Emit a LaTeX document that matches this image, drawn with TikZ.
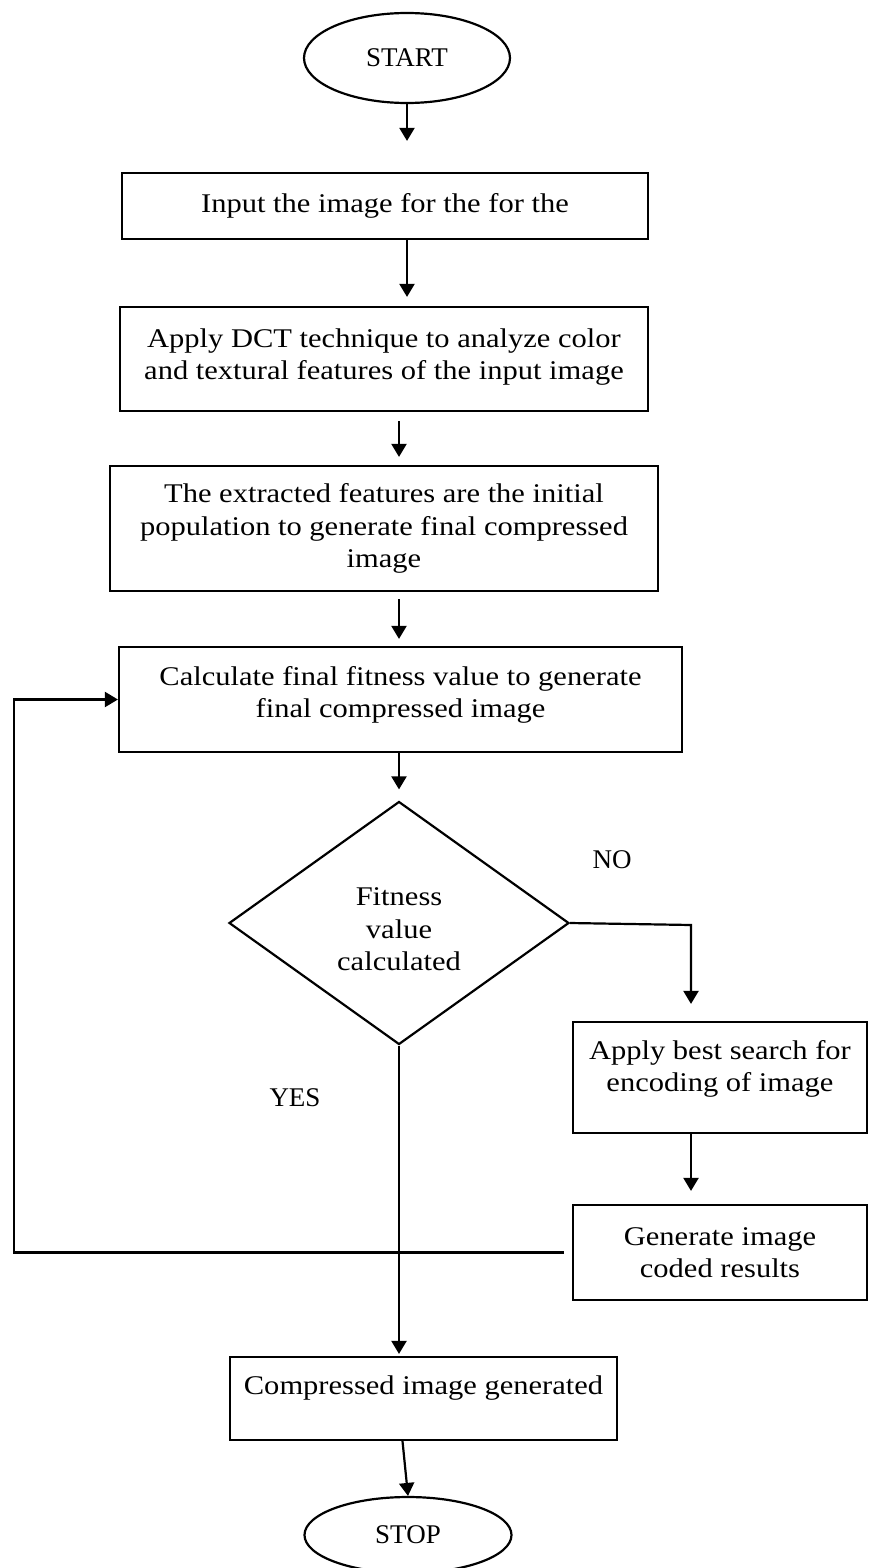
\documentclass[tikz,border=0pt]{standalone}
\usepackage{fontspec}
\setmainfont{Liberation Serif}
\newfontfamily\boxfont[FakeStretch=1.13]{Liberation Serif}
\usetikzlibrary{arrows.meta,shapes.geometric}
\tikzset{
  box/.style   = {draw, line width=2.2pt, rectangle, align=center, inner sep=0pt,
                  font=\boxfont\fontsize{27}{32.5}\selectfont},
  term/.style  = {draw, line width=2.2pt, ellipse, inner sep=0pt,
                  font=\fontsize{27}{32}\selectfont},
  decide/.style= {draw, line width=2.2pt, diamond, inner sep=0pt, align=center,
                  font=\boxfont\fontsize{27}{32.5}\selectfont},
  flow/.style  = {line width=2.2pt, -{Triangle[length=13pt,width=15pt]}},
  tag/.style   = {font=\fontsize{27}{32}\selectfont},
}
\begin{document}
\begin{tikzpicture}[x=1pt,y=-1pt]
  \useasboundingbox (0,0) rectangle (870,1568);
  % terminals
  \node[term, minimum width=206pt, minimum height=90pt] (start) at (407,58) {START};
  \node[term, minimum width=207pt, minimum height=76pt] (stop) at (408,1535) {STOP};
  % process boxes
  \node[box, minimum width=526pt, minimum height=66pt] (input) at (385,206)
      {Input the image for the for the};
  \node[box, minimum width=528pt, minimum height=104pt, text depth=10pt] (dct) at (384,359)
      {Apply DCT technique to analyze color\\and textural features of the input image};
  \node[box, minimum width=548pt, minimum height=125pt] (feat) at (384,528.5)
      {The extracted features are the initial\\population to generate final compressed\\image};
  \node[box, minimum width=563pt, minimum height=105pt, text depth=15pt] (calc) at (400.5,699.5)
      {Calculate final fitness value to generate\\final compressed image};
  \node[decide, minimum width=340pt, minimum height=243pt, text height=96pt] (dec) at (399,923)
      {Fitness\\value\\calculated};
  \node[box, minimum width=294pt, minimum height=111pt, text depth=23pt] (best) at (720,1077.5)
      {Apply best search for\\encoding of image};
  \node[box, minimum width=294pt, minimum height=95pt] (gen) at (720,1252.5)
      {Generate image\\coded results};
  \node[box, minimum width=387pt, minimum height=83pt, text depth=26pt] (comp) at (423.5,1398.5)
      {Compressed image generated};
  \node[tag] (no) at (612,860) {NO};
  \node[tag] (yes) at (295,1098) {YES};

  \coordinate (nocorner) at (691,925);
  \coordinate (loop) at (14,1252.5);

  % main line
  \draw[flow, shorten >=31pt] (start) -- (start |- input.north);
  \draw[flow, shorten >=9pt] (start |- input.south) -- (start |- dct.north);
  \draw[flow, shorten <=9pt, shorten >=8pt] (dec |- dct.south) -- (dec |- feat.north);
  \draw[flow, shorten <=7pt, shorten >=7pt] (dec |- feat.south) -- (dec |- calc.north);
  \draw[flow, shorten >=11pt] (dec |- calc.south) -- (dec.north);
  \draw[flow, shorten >=2pt] (dec.south) -- (dec.south |- comp.north);
  \draw[flow] ([xshift=-21pt]comp.south) -- (stop.north);
  % NO branch
  \draw[flow, shorten >=17pt] (dec.east) -- (nocorner) -- (nocorner |- best.north);
  \draw[flow, shorten >=13pt] (nocorner |- best.south) -- (nocorner |- gen.north);
  % back to fitness step
  \draw[flow] ([xshift=-8pt]gen.west) -- (loop) |- (calc.west);
\end{tikzpicture}
\end{document}
